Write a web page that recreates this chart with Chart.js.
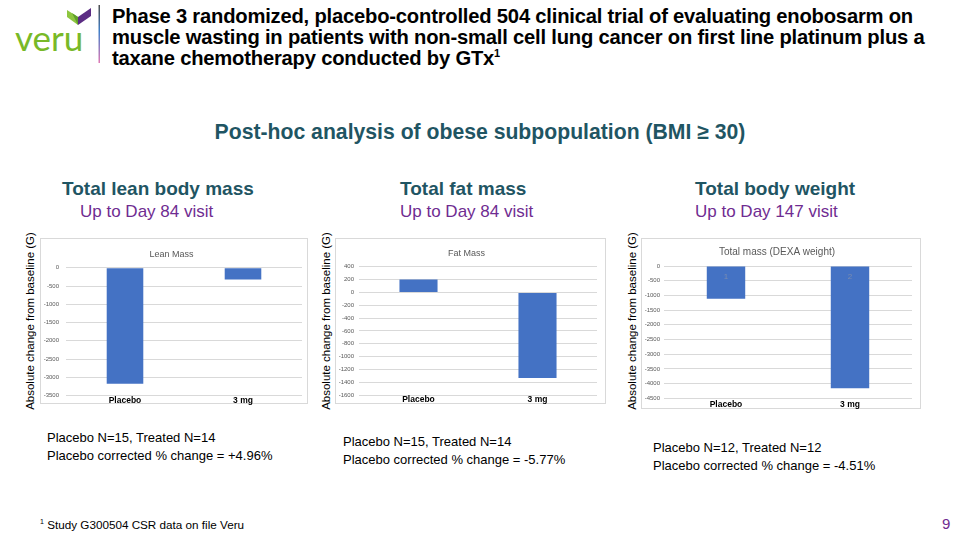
<!DOCTYPE html>
<html>
<head>
<meta charset="utf-8">
<script src="https://cdn.jsdelivr.net/npm/chart.js@4.4.1/dist/chart.umd.min.js"></script>
<style>
  body { margin: 0; width: 960px; height: 540px; position: relative; overflow: hidden; background: #fff;
         font-family: "Liberation Sans", Arial, sans-serif; }
  .abs { position: absolute; white-space: nowrap; }
  .title { left: 112px; top: 6px; font-size: 20.2px; font-weight: bold; line-height: 21px; color: #000; letter-spacing: -0.2px; }
  .sub { left: 0; width: 960px; top: 120px; text-align: center; font-size: 21.2px; font-weight: bold; color: #1f5563; }
  .head { font-size: 19px; font-weight: bold; color: #1f5563; top: 178px; }
  .visit { font-size: 17px; color: #6f2c91; top: 202px; }
  .note { font-size: 13px; line-height: 18px; color: #000; }
  .frame { position: absolute; border: 1px solid #d9d9d9; box-sizing: border-box; top: 238px; }
  .holder { position: absolute; top: 239px; }
  .ytitle { position: absolute; top: 321px; font-size: 11.5px; color: #000; transform: translate(-50%, -50%) rotate(-90deg); white-space: nowrap; }
</style>
</head>
<body>

<!-- logo -->
<svg class="abs" style="left:0;top:0" width="110" height="70">
  <defs>
    <linearGradient id="bar" x1="0" y1="0" x2="0" y2="1">
      <stop offset="0" stop-color="#4d4d4d"/>
      <stop offset="0.45" stop-color="#3f7fc8"/>
      <stop offset="1" stop-color="#e07ab5"/>
    </linearGradient>
  </defs>
  <polygon points="67,10 78,17 78,25 67,17" fill="#8dc63f"/>
  <polygon points="72,13 78,17 78,25" fill="#5e9e2a"/>
  <polygon points="78,17 91,8 91,16 78,25" fill="#5b2c83"/>
  <text x="15" y="51" font-family="Lato, sans-serif" font-size="35" fill="#78b928">veru</text>
  <rect x="98.5" y="5" width="1.5" height="58" fill="url(#bar)"/>
</svg>

<div class="abs title">Phase 3 randomized, placebo-controlled 504 clinical trial of evaluating enobosarm on<br>muscle wasting in patients with non-small cell lung cancer on first line platinum plus a<br>taxane chemotherapy conducted by GTx<sup style="font-size:11px;line-height:0">1</sup></div>

<div class="abs sub">Post-hoc analysis of obese subpopulation (BMI ≥ 30)</div>

<div class="abs head" style="left:62px">Total lean body mass</div>
<div class="abs visit" style="left:80px">Up to Day 84 visit</div>
<div class="abs head" style="left:400px">Total fat mass</div>
<div class="abs visit" style="left:400px">Up to Day 84 visit</div>
<div class="abs head" style="left:695px">Total body weight</div>
<div class="abs visit" style="left:695px">Up to Day 147 visit</div>

<div class="ytitle" style="left:30px">Absolute change from baseline (G)</div>
<div class="ytitle" style="left:326px">Absolute change from baseline (G)</div>
<div class="ytitle" style="left:632px">Absolute change from baseline (G)</div>

<!-- chart frames, canvases sit in slightly taller holders so labels are not clipped -->
<div class="frame" style="left:40px;width:268px;height:166px"></div>
<div class="frame" style="left:335px;width:271px;height:166px"></div>
<div class="frame" style="left:641px;width:280px;height:171px"></div>
<div class="holder" style="left:41px;width:266px;height:172px"><canvas id="lean"></canvas></div>
<div class="holder" style="left:336px;width:269px;height:172px"><canvas id="fat"></canvas></div>
<div class="holder" style="left:642px;width:278px;height:176px"><canvas id="total"></canvas></div>

<div class="abs note" style="left:47px;top:429px">Placebo N=15, Treated N=14<br>Placebo corrected % change = +4.96%</div>
<div class="abs note" style="left:343px;top:433px">Placebo N=15, Treated N=14<br>Placebo corrected % change = -5.77%</div>
<div class="abs note" style="left:653px;top:439px">Placebo N=12, Treated N=12<br>Placebo corrected % change = -4.51%</div>

<div class="abs" style="left:40px;top:518px;font-size:11.7px;color:#000"><sup style="font-size:7px">1</sup> Study G300504 CSR data on file Veru</div>
<div class="abs" style="left:942px;top:515px;font-size:15px;color:#6f2c91">9</div>

<script>
// === Dados ===
const categories = ["Placebo", "3 mg"];
const leanValues = [-3180, -320];
const fatValues = [200, -1335];
const totalValues = [-1110, -4160];
const totalLabels = ["1", "2"];

// [min, max, step]
const leanRange = [-3500, 0, 500];
const fatRange = [-1600, 400, 200];
const totalRange = [-4500, 0, 500];

const barColor = "#4472c4";
const gridColor = "#d9d9d9";

// small labels at the top of the DEXA bars
const topLabels = {
  id: "topLabels",
  afterDatasetsDraw(chart, args, opts) {
    if (!opts.labels) return;
    const c = chart.ctx;
    const meta = chart.getDatasetMeta(0);
    c.save();
    c.font = "8px 'Liberation Sans'";
    c.fillStyle = "#7a8cb0";
    c.textAlign = "center";
    meta.data.forEach((bar, i) => {
      c.fillText(opts.labels[i], bar.x, bar.base + 12);
    });
    c.restore();
  },
};

function makeChart(id, title, titleSize, values, range, topPad, rightPad, xHeight, xPad, yWidth, yPad, barPct, labels) {
  return new Chart(document.getElementById(id), {
    type: "bar",
    data: {
      labels: categories,
      datasets: [
        {
          data: values,
          backgroundColor: barColor,
          barPercentage: barPct,
          categoryPercentage: 1,
        },
      ],
    },
    plugins: [topLabels],
    options: {
      responsive: true,
      maintainAspectRatio: false,
      animation: false,
      layout: { padding: { left: 0, right: rightPad, top: topPad, bottom: 0 } },
      scales: {
        y: {
          min: range[0],
          max: range[1],
          ticks: {
            stepSize: range[2],
            color: "#595959",
            font: { size: 6, family: "Liberation Sans" },
            padding: yPad,
            callback: (v) => String(v),
          },
          grid: { color: gridColor, drawTicks: false },
          border: { display: false },
          afterFit: (s) => { s.width = yWidth; },
        },
        x: {
          grid: { display: false, drawTicks: false },
          border: { display: false },
          ticks: {
            color: "#000",
            font: { size: 8.5, weight: "bold", family: "Liberation Sans" },
            padding: xPad,
          },
          afterFit: (s) => { s.height = xHeight; },
        },
      },
      plugins: {
        legend: { display: false },
        tooltip: { enabled: false },
        title: {
          display: true,
          text: title,
          color: "#595959",
          font: { size: titleSize, weight: "normal", family: "Liberation Sans" },
          padding: { top: 6, bottom: 8 },
        },
        topLabels: { labels: labels },
      },
    },
  });
}

makeChart("lean", "Lean Mass", 9, leanValues, leanRange, 4, 5, 15.5, 0, 25, 7, 0.31, null);
makeChart("fat", "Fat Mass", 9, fatValues, fatRange, 3, 8, 16, 0, 23, 5, 0.32, null);
makeChart("total", "Total mass (DEXA weight)", 10, totalValues, totalRange, 1, 8, 16.7, 1, 22, 4, 0.31, totalLabels);
</script>
</body>
</html>
